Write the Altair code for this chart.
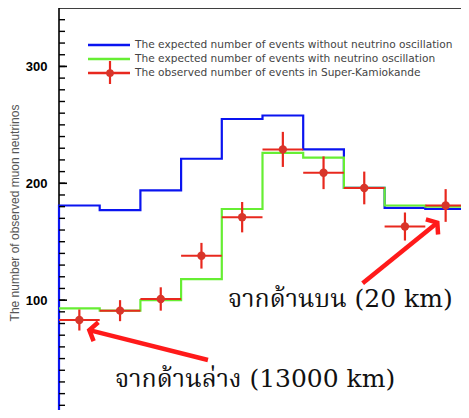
import altair as alt
import pandas as pd

# ---- data ----
bins = list(range(10))
expected_no_osc = [181, 177, 194, 221, 255, 258, 229, 196, 179, 178]
expected_osc = [93, 91, 100, 118, 178, 226, 222, 196, 181, 180]
observed = [83, 91, 101, 138, 171, 229, 209, 196, 163, 181]
obs_err = [9, 9, 10, 11, 13, 15, 14, 14, 12, 14]

legend_labels = [
    "The expected number of events without neutrino oscillation",
    "The expected number of events with neutrino oscillation",
    "The observed number of events in Super-Kamiokande",
]
y_title = "The number of observed muon neutrinos"
major_ticks = [0, 100, 200, 300]
minor_ticks = list(range(10, 350, 10))

arrow_tail_x = [3.66, 7.46]
arrow_tail_y = [48.8, 114.4]
arrow_tip_x = [0.745, 9.295]
arrow_tip_y = [74.4, 166.3]
arrow_angle = [194, 321]

notes = ["จากด้านล่าง (13000 km)", "จากด้านบน (20 km)"]
note_x = [1.376, 4.15]
note_y = [25.9, 94.4]

BLUE = "#0a14f0"
GREEN = "#66ee33"
RED = "#e8281e"
DOT = "#d8352a"

W, H = 407, 409
xs = alt.Scale(domain=[0, 10], nice=False)
ys = alt.Scale(domain=[0, 350], nice=False)


def step_df(vals, drop=False):
    xv = list(range(11))
    yv = vals + [vals[-1]]
    if drop:
        xv = [0] + xv + [10]
        yv = [0] + yv + [0]
    return pd.DataFrame({"x": xv, "y": yv, "i": list(range(len(xv)))})


X = lambda f: alt.X(f, scale=xs, axis=None)

blue = alt.Chart(step_df(expected_no_osc, True)).mark_line(
    interpolate="step-after", color=BLUE, strokeWidth=2.2
).encode(
    x=X("x:Q"),
    y=alt.Y("y:Q", scale=ys, title=y_title,
            axis=alt.Axis(values=major_ticks, ticks=False, domain=False, grid=False,
                          labelFontWeight="bold", labelFontSize=13, labelColor="black",
                          labelFont="Liberation Sans", labelPadding=12,
                          titleFont="Liberation Sans", titleFontSize=12,
                          titleFontWeight="normal", titleColor="#555555",
                          titlePadding=4)),
    order="i:Q",
)

green = alt.Chart(step_df(expected_osc)).mark_line(
    interpolate="step-after", color=GREEN, strokeWidth=2.2
).encode(x=X("x:Q"), y=alt.Y("y:Q", scale=ys), order="i:Q")

obs_df = pd.DataFrame({
    "x0": bins,
    "x1": [b + 1 for b in bins],
    "xc": [b + 0.5 for b in bins],
    "y": observed,
    "lo": [o - e for o, e in zip(observed, obs_err)],
    "hi": [o + e for o, e in zip(observed, obs_err)],
})

hbar = alt.Chart(obs_df).mark_rule(color=RED, strokeWidth=2).encode(
    x=X("x0:Q"), x2="x1:Q", y=alt.Y("y:Q", scale=ys))
vbar = alt.Chart(obs_df).mark_rule(color=RED, strokeWidth=2.2).encode(
    x=X("xc:Q"), y=alt.Y("lo:Q", scale=ys), y2="hi:Q")
dots = alt.Chart(obs_df).mark_circle(color=DOT, size=70, opacity=1).encode(
    x=X("xc:Q"), y=alt.Y("y:Q", scale=ys))

arr_df = pd.DataFrame({
    "tx": arrow_tail_x, "ty": arrow_tail_y,
    "hx": arrow_tip_x, "hy": arrow_tip_y, "ang": arrow_angle,
})
arr_line = alt.Chart(arr_df).mark_rule(color="#ff1a1a", strokeWidth=4.5).encode(
    x=X("tx:Q"), x2="hx:Q", y=alt.Y("ty:Q", scale=ys), y2="hy:Q")
arr_head = alt.Chart(arr_df).mark_point(
    shape="M -0.6 -0.85 L 0 0 L -0.6 0.85", filled=False, color="#ff1a1a",
    strokeWidth=4.5, size=520, opacity=1
).encode(x=X("hx:Q"), y=alt.Y("hy:Q", scale=ys), angle=alt.Angle("ang:Q", scale=None))

note_df = pd.DataFrame({"t": notes, "x": note_x, "y": note_y})
note_txt = alt.Chart(note_df).mark_text(
    align="left", baseline="alphabetic", fontSize=25, color="#111111",
    font="DejaVu Serif, Noto Serif Thai, Noto Sans Thai, serif"
).encode(x=X("x:Q"), y=alt.Y("y:Q", scale=ys), text="t:N")

# ticks drawn inward
minor = alt.Chart(pd.DataFrame({"v": minor_ticks})).mark_rule(
    color="black", strokeWidth=1.4).encode(
    x=alt.value(0), x2=alt.value(6), y=alt.Y("v:Q", scale=ys))
major = alt.Chart(pd.DataFrame({"v": major_ticks})).mark_rule(
    color="black", strokeWidth=1.6).encode(
    x=alt.value(0), x2=alt.value(8), y=alt.Y("v:Q", scale=ys))

# legend
leg_layers = []
leg_colors = [BLUE, GREEN, RED]
for i, (lab, col) in enumerate(zip(legend_labels, leg_colors)):
    yy = 37 + 14 * i
    leg_layers.append(alt.Chart(pd.DataFrame({"t": [lab]})).mark_rule(
        color=col, strokeWidth=2.6).encode(
        x=alt.value(29), x2=alt.value(71), y=alt.value(yy)))
    leg_layers.append(alt.Chart(pd.DataFrame({"t": [lab]})).mark_text(
        align="left", baseline="middle", fontSize=10.6, color="#444444",
        font="DejaVu Sans").encode(
        x=alt.value(76), y=alt.value(yy), text="t:N"))
leg_layers.append(alt.Chart(pd.DataFrame({"t": [legend_labels[2]]})).mark_rule(
    color=RED, strokeWidth=2.2).encode(
    x=alt.value(51), y=alt.value(53), y2=alt.value(76)))
leg_layers.append(alt.Chart(pd.DataFrame({"t": [legend_labels[2]]})).mark_circle(
    color=DOT, size=60, opacity=1).encode(x=alt.value(51), y=alt.value(65)))

chart = alt.layer(
    blue, green, hbar, vbar, dots, arr_line, arr_head, note_txt, minor, major,
    *leg_layers
).properties(
    width=W, height=H,
    autosize=alt.AutoSizeParams(type="none"),
    padding={"left": 51, "top": 0, "right": -5, "bottom": -7},
    background="white",
).configure_view(stroke="black", strokeWidth=1.6)

chart.save("out.html", embed_options={"renderer": "svg", "actions": False})
